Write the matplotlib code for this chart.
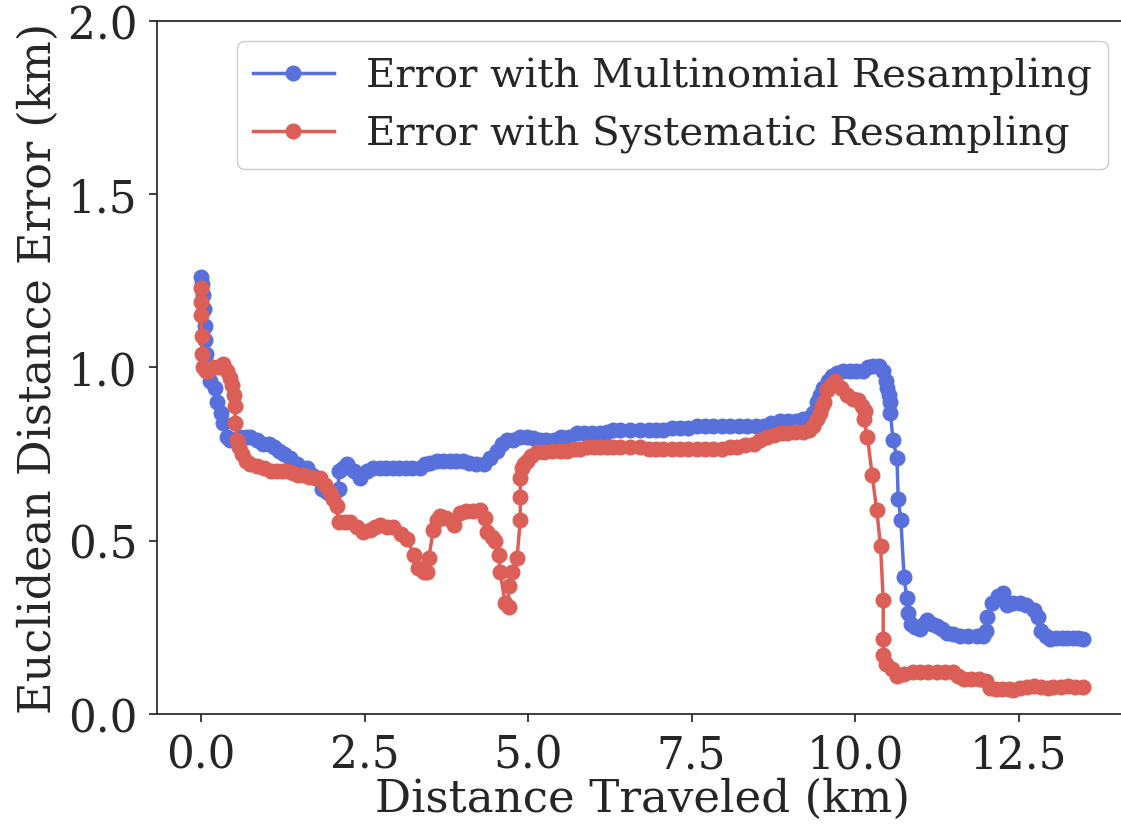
import matplotlib
matplotlib.use("Agg")
import matplotlib.pyplot as plt

# distance traveled (km) and error (km)
multi_x = [0.00, 0.01, 0.03, 0.05, 0.06, 0.06, 0.07, 0.11, 0.14, 0.21, 0.24, 0.30, 0.34, 0.39, 0.44,
           0.52, 0.60, 0.68, 0.75, 0.85, 0.95, 1.03, 1.11, 1.19, 1.26, 1.36, 1.46, 1.54, 1.62, 1.70,
           1.77, 1.85, 1.92, 1.97, 2.04, 2.10, 2.10, 2.17, 2.23, 2.33, 2.43, 2.53, 2.63, 2.73, 2.83,
           2.93, 3.03, 3.13, 3.23, 3.35, 3.43, 3.50, 3.60, 3.70, 3.80, 3.90, 4.00, 4.10, 4.20, 4.32,
           4.42, 4.52, 4.60, 4.67, 4.77, 4.87, 4.98, 5.08, 5.18, 5.28, 5.39, 5.50, 5.62, 5.74, 5.86,
           5.98, 6.10, 6.20, 6.30, 6.41, 6.56, 6.71, 6.85, 6.96, 7.07, 7.20, 7.33, 7.45, 7.58, 7.70,
           7.83, 7.96, 8.09, 8.22, 8.35, 8.48, 8.60, 8.72, 8.85, 8.97, 9.09, 9.21, 9.30, 9.36, 9.42,
           9.47, 9.51, 9.58, 9.65, 9.72, 9.82, 9.92, 10.02, 10.12, 10.20, 10.28, 10.36, 10.43, 10.47,
           10.49, 10.52, 10.54, 10.54, 10.58, 10.64, 10.66, 10.70, 10.75, 10.79, 10.81, 10.85, 10.92,
           10.99, 11.05, 11.10, 11.18, 11.25, 11.33, 11.40, 11.50, 11.61, 11.73, 11.86, 11.95, 12.01,
           12.02, 12.09, 12.18, 12.27, 12.32, 12.42, 12.52, 12.62, 12.73, 12.80, 12.85, 12.92, 12.98,
           13.08, 13.16, 13.24, 13.33, 13.41, 13.49]
multi_err = [1.26, 1.24, 1.21, 1.17, 1.12, 1.08, 1.04, 1.00, 0.96, 0.94, 0.90, 0.87, 0.84, 0.80, 0.79,
             0.79, 0.80, 0.80, 0.80, 0.79, 0.78, 0.78, 0.77, 0.76, 0.75, 0.74, 0.72, 0.71, 0.71, 0.69,
             0.68, 0.65, 0.64, 0.635, 0.64, 0.65, 0.70, 0.71, 0.72, 0.70, 0.68, 0.70, 0.71, 0.71, 0.71,
             0.71, 0.71, 0.71, 0.71, 0.71, 0.72, 0.725, 0.73, 0.73, 0.73, 0.73, 0.73, 0.725, 0.72, 0.72,
             0.74, 0.76, 0.78, 0.79, 0.79, 0.80, 0.80, 0.795, 0.79, 0.79, 0.79, 0.80, 0.80, 0.81, 0.81,
             0.81, 0.81, 0.815, 0.82, 0.82, 0.82, 0.82, 0.82, 0.82, 0.82, 0.825, 0.825, 0.825, 0.83, 0.83,
             0.83, 0.83, 0.83, 0.83, 0.83, 0.83, 0.83, 0.84, 0.845, 0.845, 0.845, 0.85, 0.855, 0.87, 0.90,
             0.92, 0.94, 0.96, 0.975, 0.985, 0.99, 0.99, 0.99, 0.99, 1.00, 1.005, 1.005, 0.99, 0.96,
             0.94, 0.92, 0.90, 0.87, 0.79, 0.74, 0.62, 0.56, 0.395, 0.335, 0.29, 0.26, 0.25,
             0.245, 0.26, 0.27, 0.26, 0.255, 0.245, 0.235, 0.23, 0.225, 0.225, 0.225, 0.225, 0.24,
             0.28, 0.32, 0.34, 0.35, 0.315, 0.32, 0.32, 0.315, 0.30, 0.28, 0.24, 0.225, 0.215,
             0.22, 0.22, 0.22, 0.22, 0.22, 0.215]

syst_x = [0.00, 0.00, 0.00, 0.01, 0.01, 0.03, 0.08, 0.11, 0.18, 0.26, 0.34, 0.40, 0.44, 0.47, 0.50,
          0.52, 0.52, 0.55, 0.58, 0.62, 0.68, 0.75, 0.85, 0.96, 1.06, 1.16, 1.24, 1.31, 1.40, 1.48,
          1.56, 1.65, 1.74, 1.82, 1.90, 1.97, 2.02, 2.07, 2.10, 2.20, 2.28, 2.38, 2.48, 2.58, 2.66,
          2.74, 2.84, 2.94, 3.05, 3.15, 3.25, 3.32, 3.40, 3.45, 3.48, 3.55, 3.60, 3.65, 3.75, 3.86,
          3.96, 4.05, 4.15, 4.27, 4.34, 4.37, 4.44, 4.50, 4.55, 4.57, 4.65, 4.70, 4.70, 4.75, 4.83,
          4.88, 4.88, 4.88, 4.90, 4.94, 4.98, 5.05, 5.13, 5.25, 5.37, 5.49, 5.60, 5.70, 5.80, 5.90,
          6.00, 6.10, 6.20, 6.30, 6.41, 6.56, 6.71, 6.85, 6.96, 7.07, 7.20, 7.33, 7.45, 7.58, 7.70,
          7.83, 7.96, 8.09, 8.20, 8.32, 8.45, 8.55, 8.65, 8.76, 8.86, 8.96, 9.08, 9.21, 9.30, 9.36,
          9.42, 9.46, 9.50, 9.52, 9.57, 9.63, 9.69, 9.78, 9.87, 9.97, 10.05, 10.10, 10.15, 10.13,
          10.19, 10.26, 10.33, 10.39, 10.43, 10.43, 10.43, 10.48, 10.56, 10.64, 10.75, 10.89, 11.00,
          11.12, 11.25, 11.38, 11.50, 11.58, 11.66, 11.78, 11.90, 12.01, 12.06, 12.15, 12.25, 12.35,
          12.42, 12.52, 12.63, 12.73, 12.85, 12.95, 13.03, 13.15, 13.25, 13.37, 13.49]
syst_err = [1.23, 1.19, 1.15, 1.09, 1.04, 1.00, 0.99, 0.99, 1.00, 1.00, 1.01, 0.99, 0.97, 0.95, 0.92,
            0.89, 0.84, 0.79, 0.77, 0.75, 0.73, 0.72, 0.715, 0.71, 0.70, 0.70, 0.70, 0.70, 0.695, 0.69,
            0.69, 0.685, 0.68, 0.68, 0.66, 0.64, 0.62, 0.60, 0.555, 0.555, 0.555, 0.54, 0.525, 0.53, 0.54,
            0.545, 0.54, 0.54, 0.52, 0.505, 0.46, 0.42, 0.41, 0.41, 0.45, 0.53, 0.56, 0.57, 0.565, 0.545,
            0.58, 0.585, 0.585, 0.59, 0.565, 0.525, 0.51, 0.50, 0.46, 0.41, 0.32, 0.31, 0.37, 0.41, 0.45,
            0.56, 0.625, 0.68, 0.71, 0.72, 0.73, 0.745, 0.755, 0.755, 0.76, 0.76, 0.76, 0.765, 0.765, 0.77,
            0.77, 0.77, 0.77, 0.77, 0.77, 0.77, 0.77, 0.765, 0.765, 0.765, 0.765, 0.765, 0.765, 0.765, 0.765,
            0.765, 0.765, 0.77, 0.77, 0.775, 0.78, 0.79, 0.80, 0.805, 0.81, 0.81, 0.815, 0.815, 0.82, 0.83,
            0.85, 0.87, 0.89, 0.90, 0.935, 0.95, 0.96, 0.94, 0.92, 0.91, 0.905, 0.89, 0.875, 0.85,
            0.80, 0.69, 0.59, 0.485, 0.33, 0.215, 0.17, 0.145, 0.13, 0.11, 0.115, 0.12, 0.12,
            0.12, 0.12, 0.12, 0.12, 0.11, 0.10, 0.10, 0.10, 0.095, 0.075, 0.072, 0.072, 0.072,
            0.07, 0.075, 0.078, 0.08, 0.078, 0.076, 0.077, 0.078, 0.08, 0.078, 0.077]

plt.rcParams['font.family'] = 'DejaVu Serif'
plt.rcParams['text.color'] = '.15'
plt.rcParams['axes.labelcolor'] = '.15'
plt.rcParams['xtick.color'] = '.15'
plt.rcParams['ytick.color'] = '.15'
plt.rcParams['axes.edgecolor'] = '.15'

fig = plt.figure(figsize=(11.21, 8.28), dpi=100)
ax = fig.add_axes([0.1401, 0.1365, 0.8662, 0.8370])

ax.plot(multi_x, multi_err, '-o', color='#5770db', lw=2.5, ms=10.5,
        label='Error with Multinomial Resampling')
ax.plot(syst_x, syst_err, '-o', color='#db5f57', lw=2.5, ms=10.5,
        label='Error with Systematic Resampling')

ax.set_xlim(-0.675, 14.175)
ax.set_ylim(0, 2.0)
ax.set_xticks([0.0, 2.5, 5.0, 7.5, 10.0, 12.5])
ax.set_yticks([0.0, 0.5, 1.0, 1.5, 2.0])
ax.tick_params(labelsize=31.5, length=6, width=1.25, pad=8)
ax.set_xlabel('Distance Traveled (km)', fontsize=32.5, labelpad=0)
ax.set_ylabel('Euclidean Distance Error (km)', fontsize=32, labelpad=6)
for s in ax.spines.values():
    s.set_linewidth(1.25)

ax.legend(loc='upper right', fontsize=29, edgecolor='0.8', framealpha=1)

fig.savefig('out.png', dpi=100)
